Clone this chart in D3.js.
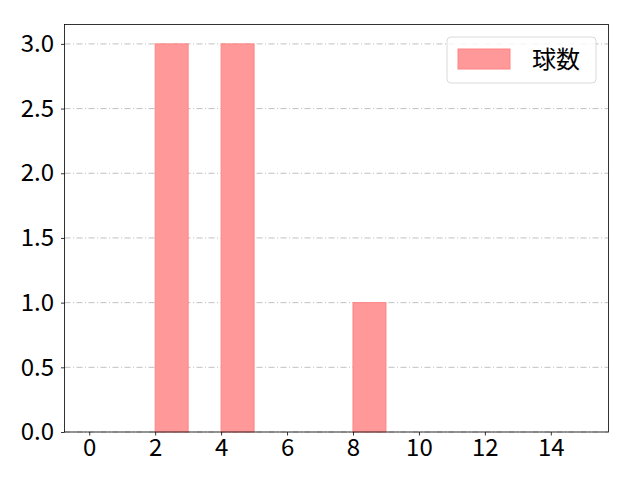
<!DOCTYPE html>
<html>
<head>
<meta charset="utf-8">
<script src="https://cdn.jsdelivr.net/npm/d3@7"></script>
<style>
  body { margin: 0; background: #fff; }
  text { font-family: "Noto Sans CJK JP", "DejaVu Sans", sans-serif; font-weight: 400; }
</style>
</head>
<body>
<div id="chart"></div>
<script>
// histogram bins (left edges) and counts
const binEdges = [0, 1, 2, 3, 4, 5, 6, 7, 8, 9, 10, 11, 12, 13, 14];
const counts = [0, 0, 3, 0, 3, 0, 0, 0, 1, 0, 0, 0, 0, 0, 0];
const xTicks = [0, 2, 4, 6, 8, 10, 12, 14];
const yTicks = [0, 0.5, 1.0, 1.5, 2.0, 2.5, 3.0];
const seriesName = "球数";

const width = 640, height = 480;
const margin = { top: 24.5, right: 31.5, bottom: 48, left: 64.5 };

const svg = d3.select("#chart").append("svg")
  .attr("width", width)
  .attr("height", height);

let x = d3.scaleLinear().domain([-0.75, 15.75]).range([margin.left, width - margin.right]);
let y = d3.scaleLinear().domain([0, 3.15]).range([height - margin.bottom, margin.top]);

// grid
svg.append("g")
  .selectAll("line")
  .data(yTicks)
  .join("line")
  .attr("x1", margin.left)
  .attr("x2", width - margin.right)
  .attr("y1", d => y(d))
  .attr("y2", d => y(d))
  .attr("stroke", "#b0b0b0")
  .attr("stroke-width", 0.8)
  .attr("stroke-dasharray", "6,2.5,1,2.5");

// bars
svg.append("g")
  .selectAll("rect")
  .data(binEdges.map((b, i) => ({ x0: b, x1: b + 1, n: counts[i] })).filter(d => d.n > 0))
  .join("rect")
  .attr("x", d => x(d.x0))
  .attr("width", d => x(d.x1) - x(d.x0))
  .attr("y", d => y(d.n))
  .attr("height", d => y(0) - y(d.n))
  .attr("fill", "#ff9999")
  .attr("stroke", "#ff8484")
  .attr("stroke-width", 1);

// axes
let xAxis = svg.append("g")
  .attr("transform", `translate(0,${height - margin.bottom})`)
  .call(d3.axisBottom(x).tickValues(xTicks).tickSize(3.5).tickPadding(3).tickFormat(d3.format("d")));
let yAxis = svg.append("g")
  .attr("transform", `translate(${margin.left},0)`)
  .call(d3.axisLeft(y).tickValues(yTicks).tickSize(3.5).tickPadding(7).tickFormat(d3.format(".1f")));

[xAxis, yAxis].forEach(function (a) {
  a.select(".domain").remove();
  a.attr("font-family", null).attr("font-size", null);
  a.selectAll("text").attr("fill", "#000")
    .style("font-size", "24px")
    .style("font-family", '"Noto Sans CJK JP", "DejaVu Sans", sans-serif');
  a.selectAll("line").attr("stroke", "#000").attr("stroke-width", 0.8);
});

// frame
svg.append("rect")
  .attr("x", margin.left)
  .attr("y", margin.top)
  .attr("width", width - margin.left - margin.right)
  .attr("height", height - margin.top - margin.bottom)
  .attr("fill", "none")
  .attr("stroke", "#000")
  .attr("stroke-width", 0.8);

// legend
let lg = svg.append("g").attr("transform", "translate(447,37)");
lg.append("rect")
  .attr("width", 149).attr("height", 46).attr("rx", 4)
  .attr("fill", "#fff").attr("fill-opacity", 0.8)
  .attr("stroke", "#d0d0d0").attr("stroke-width", 0.8);
lg.append("rect")
  .attr("x", 11).attr("y", 12).attr("width", 52).attr("height", 20)
  .attr("fill", "#ff9999").attr("stroke", "#ff8484");
lg.append("text")
  .attr("x", 85).attr("y", 31)
  .style("font-size", "24px")
  .attr("fill", "#000")
  .text(seriesName);
</script>
</body>
</html>
